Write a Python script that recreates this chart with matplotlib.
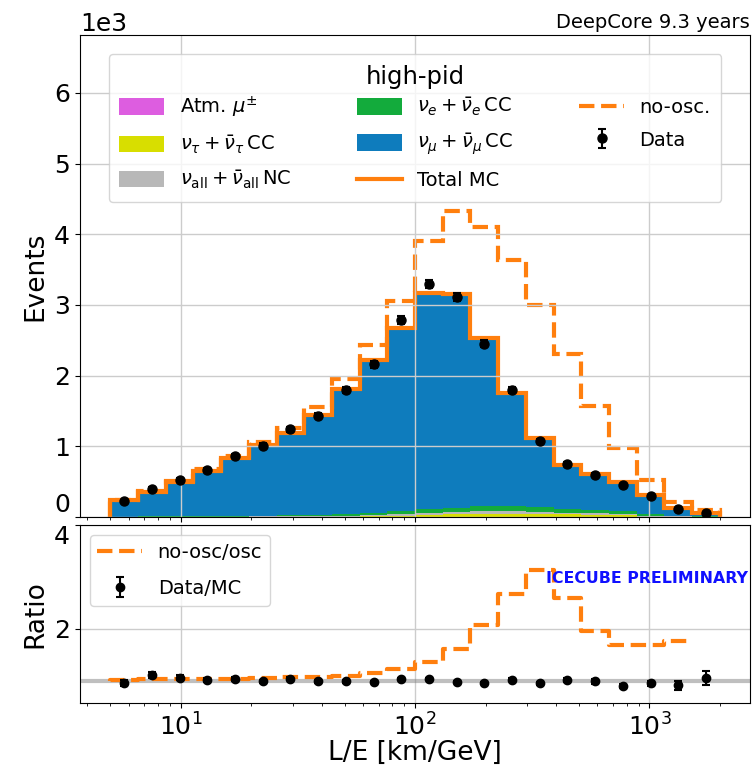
import numpy as np
import matplotlib
matplotlib.use("Agg")
import matplotlib.pyplot as plt
from matplotlib.lines import Line2D

# L/E binning (km/GeV), 22 log-spaced bins
edges = np.logspace(0.7, 3.3, 23)
centers = np.sqrt(edges[:-1] * edges[1:])

# Expected events per bin, per component
atm_mu = [1, 1, 1, 1, 1, 1, 1, 2, 2, 2, 2, 2, 2, 2, 2, 2, 1, 1, 1, 1, 0.5, 0.2]
nutau_cc = [0, 0, 0, 0, 0, 0, 1, 2, 4, 8, 14, 28, 38, 45, 46, 42, 35, 30, 24, 5, 2, 0.5]
nc_all = [2, 3, 4, 5, 6, 7, 8, 10, 12, 15, 20, 25, 30, 34, 35, 30, 25, 22, 18, 12, 6, 3]
nue_cc = [4, 5, 6, 8, 10, 12, 15, 20, 26, 34, 44, 52, 60, 70, 75, 70, 58, 50, 40, 25, 12, 5]
numu_cc = [228, 351, 489, 641, 813, 1000, 1165, 1416, 1766, 2161, 2590, 3063, 3030,
           2379, 1592, 976, 616, 502, 417, 272, 107, 48]

# Expectation without oscillations
no_osc = [235, 364, 515, 680, 865, 1066, 1262, 1550, 1950, 2440, 3060, 3900, 4330,
          4100, 3640, 3000, 2310, 1570, 976, 530, 215, 100]

# Observed events
data = [226, 400, 530, 662, 863, 1010, 1244, 1436, 1792, 2160, 2790, 3290, 3110,
        2454, 1794, 1075, 750, 600, 450, 300, 117, 60]

comp_labels = [r"Atm. $\mu^{\pm}$",
               r"$\nu_\tau + \bar{\nu}_\tau\,$CC",
               r"$\nu_{\rm all} + \bar{\nu}_{\rm all}\,$NC",
               r"$\nu_e + \bar{\nu}_e\,$CC",
               r"$\nu_\mu + \bar{\nu}_\mu\,$CC"]
comp_colors = ["#dd5de0", "#d8de00", "#b8b8b8", "#13ab3c", "#0e7cbd"]
orange = "#ff7f0e"

comps = np.array([atm_mu, nutau_cc, nc_all, nue_cc, numu_cc], dtype=float)
total = comps.sum(axis=0)
data = np.array(data, dtype=float)
no_osc = np.array(no_osc, dtype=float)

fig = plt.figure(figsize=(7.54, 7.74), dpi=100)
ax = fig.add_axes([0.106, 0.332, 0.889, 0.623])
axr = fig.add_axes([0.106, 0.0913, 0.889, 0.2304], sharex=ax)

# ---- main panel ----
_, _, patches = ax.hist([centers] * len(comps), bins=edges, weights=list(comps),
                        stacked=True, histtype="stepfilled", color=comp_colors,
                        label=comp_labels)
ax.stairs(total, edges, color=orange, lw=3)
ax.stairs(no_osc, edges, color=orange, lw=3, ls="--")
h_data = ax.errorbar(centers, data, yerr=np.sqrt(data), fmt="o", color="k",
                     ms=6.5, capsize=3, elinewidth=1.5, capthick=1.5)

ax.set_xscale("log")
log_span = np.log10(edges[-1] / edges[0])
ax.set_xlim(edges[0] / 10 ** (0.05 * log_span), edges[-1] * 10 ** (0.05 * log_span))
ax.set_ylim(0, 6820)
ax.set_yticks(np.arange(0, 7000, 1000))
ax.ticklabel_format(axis="y", style="sci", scilimits=(0, 0))
ax.yaxis.get_offset_text().set_fontsize(18)
ax.tick_params(axis="both", labelsize=18)
ax.tick_params(axis="x", labelbottom=False)
ax.get_yticklabels()[0].set_va("bottom")
ax.set_ylabel("Events", fontsize=19)
ax.grid(True, color="#cccccc", lw=1)
ax.set_title("DeepCore 9.3 years", loc="right", fontsize=14, pad=5)

handles = [p[0] for p in patches] + [
    Line2D([], [], color=orange, lw=3),
    Line2D([], [], color=orange, lw=3, ls="--"),
    h_data]
labels = comp_labels + ["Total MC", "no-osc.", "Data"]
leg = ax.legend(handles, labels, ncol=3, title="high-pid", fontsize=14,
                title_fontsize=17.5, loc="upper center", bbox_to_anchor=(0.5, 0.98),
                handlelength=2.3, handleheight=0.9, labelspacing=0.7,
                columnspacing=3.4, borderpad=0.55)
leg._legend_box.sep = 4

# ---- ratio panel ----
axr.axhline(1, color="gray", lw=3, alpha=0.5)
axr.step(edges[:-1], no_osc / total, where="pre", color=orange, lw=3, ls="--",
         label="no-osc/osc")
axr.errorbar(centers, data / total, yerr=np.sqrt(data) / total, fmt="o", color="k",
             ms=6, capsize=3, elinewidth=1.5, capthick=1.5, label="Data/MC")
axr.set_ylim(0.57, 4.0)
axr.set_yticks([2, 4])
axr.tick_params(axis="both", labelsize=18)
axr.get_yticklabels()[-1].set_va("top")
axr.set_ylabel("Ratio", fontsize=19)
axr.set_xlabel("L/E [km/GeV]", fontsize=19, labelpad=0)
axr.grid(True, color="#cccccc", lw=1)
axr.legend(loc="upper left", fontsize=14, handlelength=2.3, labelspacing=0.9)
axr.text(0.997, 0.70, "ICECUBE PRELIMINARY", color="#1010ff", fontweight="bold",
         fontsize=11.3, ha="right", va="center", transform=axr.transAxes)

fig.align_ylabels([ax, axr])
fig.savefig("out.png", dpi=100)
